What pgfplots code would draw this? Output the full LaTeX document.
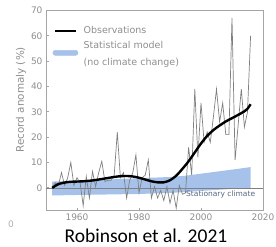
\documentclass[border=0pt]{standalone}
\usepackage{fontspec}
\setmainfont{DejaVu Sans}
\newfontfamily\capfont{Carlito}
\usepackage{pgfplots}
\pgfplotsset{compat=1.18}
\usepgfplotslibrary{fillbetween}
\definecolor{txtgray}{HTML}{8E8E8E}
\definecolor{framegray}{HTML}{A5A5A5}
\definecolor{bandblue}{HTML}{A7C2EA}
\definecolor{obsgray}{HTML}{808080}
\definecolor{statcol}{HTML}{56667E}

\pgfplotstableread{
year val
1952 0
1953 2
1954 1
1955 6
1956 1
1957 4
1958 10
1959 1
1960 4
1961 2
1962 -7
1963 4.5
1964 -4
1965 6.5
1966 0.5
1967 6
1968 10.5
1969 2.5
1970 3
1971 3
1972 5
1973 22
1974 4
1975 6
1976 -4
1977 3
1978 6
1979 13
1980 -2
1981 4
1982 5
1983 11
1984 -4
1985 0.5
1986 -4
1987 -1
1988 -5
1989 0.5
1990 -6
1991 -1
1992 -8
1993 1
1994 -2.5
1995 -2
1996 16
1997 5
1998 39
1999 12
2000 33.5
2001 18
2002 22
2003 18
2004 28
2005 39
2006 26
2007 33.5
2008 21
2009 21
2010 67
2011 11
2012 25
2013 39
2014 24
2015 30
2016 60
}\obs

\pgfplotstableread{
year val
1952 0
1953 0.8
1954 1.5
1956 2.1
1958 2.4
1960 2.5
1962 2.6
1964 2.8
1966 3.1
1968 3.5
1970 3.9
1972 4.3
1974 4.6
1976 4.7
1978 4.5
1980 4.0
1982 3.3
1984 2.6
1986 2.2
1988 2.2
1990 3.0
1992 4.8
1994 7.5
1996 10.5
1998 14
2000 17.5
2002 20.5
2004 22.8
2006 24.6
2008 26.2
2010 27.5
2012 28.8
2014 30.2
2015 31.2
2016 33
}\trend

\pgfplotstableread{
year up lo
1952 2.5 -3.0
1960 2.8 -2.8
1970 3.3 -2.6
1980 3.8 -2.4
1990 4.3 -2.0
1995 4.8 -1.6
2000 5.6 -1.2
2005 6.4 -0.8
2010 7.2 -0.4
2016 8.2 0.0
}\band

\begin{document}
\begin{tikzpicture}[x=1pt,y=1pt]
\begin{axis}[
  at={(0,0)}, anchor=south west,
  scale only axis, width=217pt, height=200.3pt,
  xmin=1950, xmax=2020, ymin=-9, ymax=70,
  axis line style={framegray, line width=0.8pt},
  xtick={1960,1980,2000,2020},
  ytick={0,10,...,70},
  xtick pos=lower, ytick pos=left,
  tick align=inside,
  major tick length=3pt,
  tick style={framegray, line width=0.8pt},
  /pgf/number format/assume math mode=true,
  /pgf/number format/1000 sep={},
  tick label style={font=\fontsize{9}{10}\selectfont, text=txtgray},
  ylabel={Record anomaly (\%)},
  ylabel style={at={(axis description cs:-0.115,0.554)}, anchor=center, font=\fontsize{10.4}{12}\selectfont, text=txtgray},
  legend style={at={(axis description cs:0.03,0.935)}, anchor=north west,
    draw=none, fill=none, inner sep=0pt,
    font=\fontsize{9.5}{11}\selectfont, text=txtgray,
    nodes={text height=7.6pt, text depth=2.2pt, inner sep=2.5pt},
    column sep=3pt},
  legend cell align=left,
  clip=false,
]
\addplot[name path=up, draw=none, forget plot] table[x=year, y=up] {\band};
\addplot[name path=lo, draw=none, forget plot] table[x=year, y=lo] {\band};
\addplot[fill=bandblue, draw=none, forget plot] fill between[of=up and lo];
\addplot[color=obsgray, line width=0.5pt, forget plot] coordinates {(1950,0) (2020,0)};
\addplot[color=obsgray, line width=0.7pt, forget plot] table[x=year, y=val] {\obs};
\addplot[black, line width=2.4pt, smooth, forget plot] table[x=year, y=val] {\trend};

\addlegendimage{legend image code/.code={\draw[black, line width=2.6pt] (2pt,0pt) -- (23pt,0pt);}}
\addlegendentry{Observations}
\addlegendimage{legend image code/.code={\fill[bandblue, rounded corners=2.2pt] (0pt,-9.5pt) rectangle (25pt,-4.5pt);}}
\addlegendentry{Statistical model}
\addlegendimage{empty legend}
\addlegendentry{(no climate change)}

\node[anchor=east, font=\fontsize{7.5}{9}\selectfont, text=statcol] at (axis cs:2018.6,-2.4) {Stationary climate};
\end{axis}
\node[font=\fontsize{9}{10}\selectfont, text=txtgray!70] at (-35,-14) {0};
\node[font=\capfont\fontsize{19.5}{21}\selectfont, anchor=base, inner sep=0pt, text=black] at (100,-31.5) {Robinson et al. 2021};
\pgfresetboundingbox
\useasboundingbox (-46,-36) rectangle (230,210.7);
\end{tikzpicture}
\end{document}
